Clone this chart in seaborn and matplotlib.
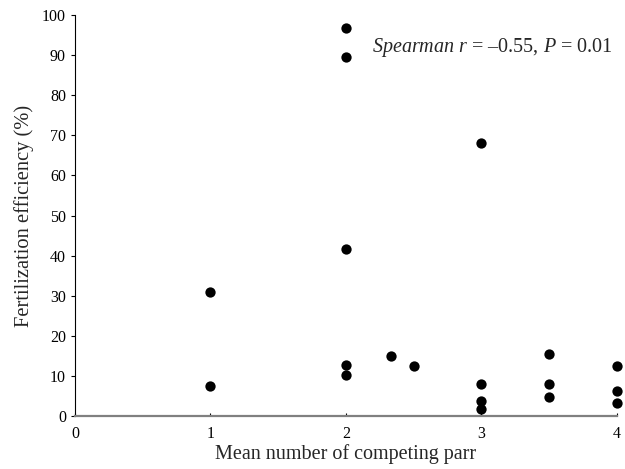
import matplotlib
matplotlib.use("Agg")
import matplotlib.pyplot as plt
import numpy as np
import pandas as pd
import seaborn as sns

# values
parr = [1, 1, 2, 2, 2, 2, 2, 2.33, 2.5, 3, 3, 3, 3, 3.5, 3.5, 3.5, 4, 4, 4]
efficiency = [31.0, 7.6, 96.7, 89.6, 41.6, 12.8, 10.3, 15.0, 12.5,
              68.2, 8.0, 3.7, 1.7, 15.4, 7.9, 4.7, 12.5, 6.2, 3.2]
x_ticks = [0, 1, 2, 3, 4]
y_ticks = list(range(0, 101, 10))

sns.set_theme(style="white")
plt.rcParams['font.family'] = ['Liberation Serif', 'DejaVu Serif']
plt.rcParams['mathtext.fontset'] = 'custom'
plt.rcParams['mathtext.rm'] = 'Liberation Serif'
plt.rcParams['mathtext.it'] = 'Liberation Serif:italic'

df = pd.DataFrame({'parr': parr, 'eff': efficiency})

fig = plt.figure(figsize=(6.25, 4.69), dpi=100)
ax = fig.add_axes([0.12, 0.113, 0.867, 0.855])
sns.scatterplot(data=df, x='parr', y='eff', color='black', s=55,
                edgecolor='black', linewidth=0, ax=ax, clip_on=False, zorder=3)

ax.set_xlim(0, 4)
ax.set_ylim(0, 100)
ax.set_xticks(x_ticks)
ax.set_yticks(y_ticks)
ax.tick_params(axis='both', labelsize=11.5, colors='black')
ax.tick_params(axis='y', direction='out', length=3, width=0.8, left=True)
ax.tick_params(axis='x', direction='in', length=2, width=0.8, bottom=True, pad=7)

for side in ['top', 'right']:
    ax.spines[side].set_visible(False)
ax.spines['left'].set_color('black')
ax.spines['left'].set_linewidth(0.8)
ax.spines['bottom'].set_color('#808080')
ax.spines['bottom'].set_linewidth(1.6)

ax.set_xlabel('Mean number of competing parr', fontsize=14.5, labelpad=2)
ax.set_ylabel('Fertilization efficiency (%)', fontsize=14.8, labelpad=6)

ax.text(0.771, 0.92, r'$\mathit{Spearman\ r}$ = –0.55, $\mathit{P}$ = 0.01',
        transform=ax.transAxes, ha='center', va='center', fontsize=14.5)

fig.savefig('out.png', dpi=100)
